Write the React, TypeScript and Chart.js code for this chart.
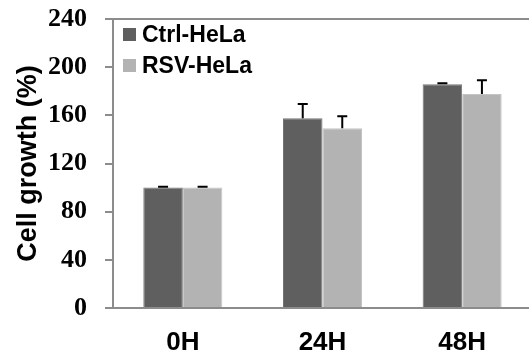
import React, { useEffect, useRef } from "react";
import { Chart, registerables } from "chart.js";
Chart.register(...registerables);

const categories = ["0H", "24H", "48H"];
const seriesLabels = ["Ctrl-HeLa", "RSV-HeLa"];
const ctrlValues = [100, 157.5, 185.8];
const ctrlErrors = [0.6, 12, 0.8];
const rsvValues = [100, 149.2, 177.7];
const rsvErrors = [0.6, 10, 11.5];
const yTickValues = [0, 40, 80, 120, 160, 200, 240];
const seriesColors = ["#5f5f5f", "#b3b3b3"];
const seriesBorders = ["#757575", "#c4c4c4"];

const errorsBySeries = [ctrlErrors, rsvErrors];

const framePlugin = {
  id: "frame",
  afterDraw(chart: any) {
    const { ctx, chartArea } = chart;
    ctx.save();
    ctx.strokeStyle = "#8c8c8c";
    ctx.lineWidth = 2;
    ctx.beginPath();
    ctx.moveTo(chartArea.left, chartArea.top);
    ctx.lineTo(chartArea.right, chartArea.top);
    ctx.moveTo(chartArea.left, chartArea.top);
    ctx.lineTo(chartArea.left, chartArea.bottom);
    ctx.moveTo(chartArea.left - 8, chartArea.bottom);
    ctx.lineTo(chartArea.right, chartArea.bottom);
    ctx.stroke();
    ctx.restore();
  },
};

const errorBarPlugin = {
  id: "errorBars",
  afterDatasetsDraw(chart: any) {
    const { ctx } = chart;
    const yScale = chart.scales.y;
    ctx.save();
    ctx.strokeStyle = "#000000";
    ctx.lineWidth = 2;
    chart.data.datasets.forEach((ds: any, i: number) => {
      const meta = chart.getDatasetMeta(i);
      const errs = errorsBySeries[i];
      meta.data.forEach((el: any, j: number) => {
        const v = ds.data[j];
        const top = yScale.getPixelForValue(v + errs[j]);
        ctx.beginPath();
        ctx.moveTo(el.x, el.y);
        ctx.lineTo(el.x, top);
        ctx.moveTo(el.x - 5, top);
        ctx.lineTo(el.x + 5, top);
        ctx.stroke();
      });
    });
    ctx.restore();
  },
};

const legendPlugin = {
  id: "insideLegend",
  afterDraw(chart: any) {
    const { ctx, chartArea } = chart;
    ctx.save();
    ctx.font = "bold 23px 'Liberation Sans', Arial, sans-serif";
    ctx.textBaseline = "middle";
    ctx.textAlign = "left";
    const rows = [16, 47];
    chart.data.datasets.forEach((ds: any, i: number) => {
      const y = chartArea.top + rows[i];
      const x = chartArea.left + 10;
      ctx.fillStyle = ds.backgroundColor;
      ctx.fillRect(x, y - 7, 13, 13);
      ctx.fillStyle = "#000000";
      ctx.fillText(ds.label, x + 19, y + 1);
    });
    ctx.restore();
  },
};

export default function App() {
  const ref = useRef<HTMLCanvasElement>(null);
  useEffect(() => {
    if (!ref.current) return;
    const chart = new Chart(ref.current, {
      type: "bar",
      data: {
        labels: categories,
        datasets: [
          {
            label: seriesLabels[0],
            data: ctrlValues,
            backgroundColor: seriesColors[0],
            borderColor: seriesBorders[0],
            borderWidth: 1,
            barPercentage: 1,
            categoryPercentage: 0.566,
          },
          {
            label: seriesLabels[1],
            data: rsvValues,
            backgroundColor: seriesColors[1],
            borderColor: seriesBorders[1],
            borderWidth: 1,
            barPercentage: 1,
            categoryPercentage: 0.566,
          },
        ],
      },
      options: {
        responsive: false,
        animation: false,
        layout: { padding: { top: 19, right: 8, left: 0, bottom: 0 } },
        plugins: {
          legend: { display: false },
          tooltip: { enabled: false },
        },
        scales: {
          x: {
            grid: { display: false, drawTicks: false },
            border: { display: false },
            ticks: {
              color: "#000000",
              font: { family: "'Liberation Sans', Arial, sans-serif", size: 26, weight: "bold" },
              padding: 19,
            },
            afterFit(scale: any) {
              scale.height = 42;
              scale.paddingLeft = 0;
              scale.paddingRight = 0;
            },
          },
          y: {
            min: 0,
            max: 240,
            afterBuildTicks(scale: any) {
              scale.ticks = yTickValues.map((v) => ({ value: v }));
            },
            grid: {
              display: true,
              drawOnChartArea: false,
              drawTicks: true,
              tickLength: 8,
              color: "#8c8c8c",
              lineWidth: 2,
            },
            border: { display: false },
            ticks: {
              color: "#000000",
              font: { family: "'Liberation Serif', 'Times New Roman', serif", size: 26, weight: "bold" },
              padding: 18,
            },
            title: {
              display: true,
              text: "Cell growth (%)",
              color: "#000000",
              font: { family: "'Liberation Sans', Arial, sans-serif", size: 27, weight: "bold" },
              padding: { top: 12, bottom: 0 },
            },
            afterFit(scale: any) {
              scale.width = 113;
              scale.paddingTop = 0;
              scale.paddingBottom = 0;
            },
          },
        },
      },
      plugins: [framePlugin, errorBarPlugin, legendPlugin],
    });
    return () => chart.destroy();
  }, []);

  return (
    <div
      style={{
        position: "fixed",
        left: 0,
        top: 0,
        width: 529,
        height: 350,
        overflow: "hidden",
        background: "#ffffff",
      }}
    >
      <canvas ref={ref} width={540} height={350} style={{ width: 540, height: 350, display: "block" }} />
    </div>
  );
}
